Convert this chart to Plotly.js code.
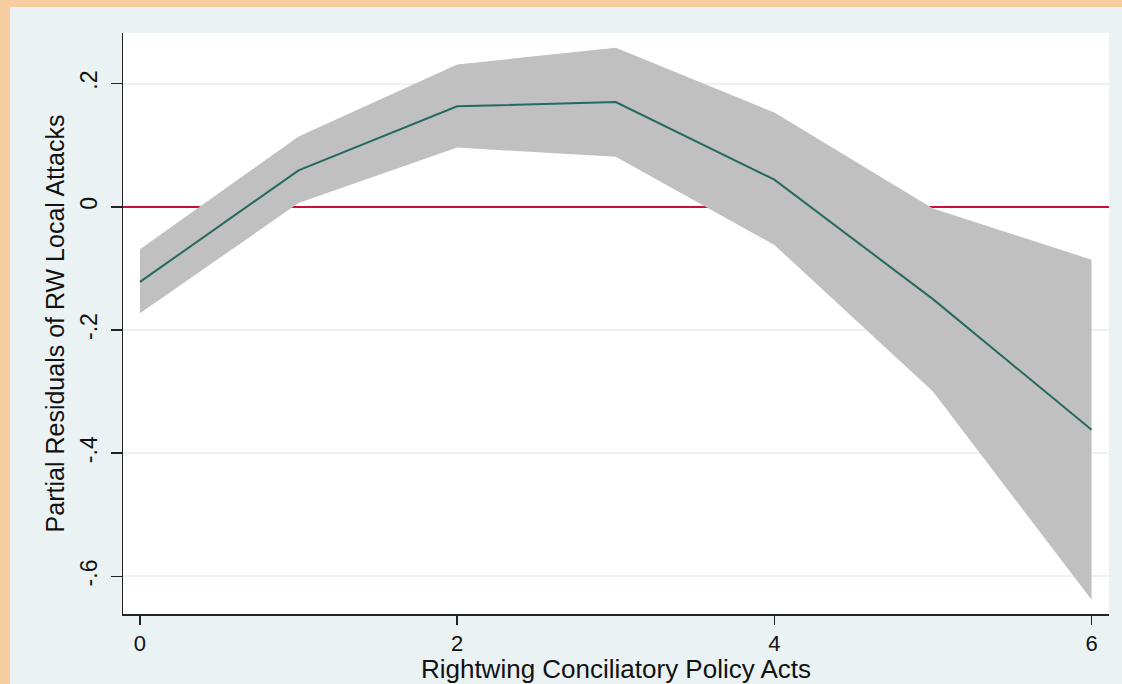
<!DOCTYPE html>
<html>
<head>
<meta charset="utf-8">
<script src="https://cdn.plot.ly/plotly-3.0.1.min.js"></script>
<style>
  html, body { margin: 0; padding: 0; background: #F6CD9F; width: 1122px; height: 684px; overflow: hidden; }
  #chart { position: absolute; left: 10px; top: 7px; width: 1112px; height: 677px; }
</style>
</head>
<body>
<div id="chart"></div>
<script>
const policyActs = [0, 1, 2, 3, 4, 5, 6];
const fitted = [-0.122, 0.059, 0.163, 0.170, 0.044, -0.150, -0.362];
const upperCI = [-0.069, 0.114, 0.231, 0.258, 0.153, -0.003, -0.086];
const lowerCI = [-0.173, 0.006, 0.096, 0.081, -0.062, -0.300, -0.638];
const yTickVals = [0.2, 0, -0.2, -0.4, -0.6];
const yTickText = [".2", "0", "-.2", "-.4", "-.6"];
const xTickVals = [0, 2, 4, 6];

const bandX = policyActs.concat(policyActs.slice().reverse());
const bandY = upperCI.concat(lowerCI.slice().reverse());

const family = "Liberation Sans, Arial, sans-serif";
const xTickFont = { family: family, size: 22, color: "#111" };
const yTickFont = { family: family, size: 23, color: "#111" };
const xTitleFont = { family: family, size: 26, color: "#111" };
const yTitleFont = { family: family, size: 25, color: "#111" };

const traces = [
  {
    x: bandX, y: bandY, type: "scatter", mode: "lines",
    fill: "toself", fillcolor: "#C0C0C0", line: { width: 0, color: "#C0C0C0" },
    hoverinfo: "skip", showlegend: false
  },
  {
    x: policyActs, y: fitted, type: "scatter", mode: "lines",
    line: { color: "#26695E", width: 2 }, showlegend: false
  }
];

const layout = {
  width: 1112, height: 677,
  paper_bgcolor: "#EAF2F3",
  plot_bgcolor: "#FFFFFF",
  margin: { l: 113, r: 13, t: 26, b: 70, pad: 0 },
  font: xTickFont,
  showlegend: false,
  xaxis: {
    range: [-0.107, 6.11],
    tickvals: xTickVals,
    ticktext: xTickVals.map(String),
    ticks: "outside", ticklen: 9, tickwidth: 1.5, tickcolor: "#222",
    ticklabelstandoff: 0,
    showline: true, linecolor: "#222", linewidth: 1.5,
    showgrid: false, zeroline: false,
    tickfont: xTickFont,
    title: { text: "Rightwing Conciliatory Policy Acts", font: xTitleFont, standoff: 2 }
  },
  yaxis: {
    range: [-0.661, 0.282],
    tickvals: yTickVals,
    ticktext: yTickText,
    tickangle: -90,
    ticks: "outside", ticklen: 11, tickwidth: 1.5, tickcolor: "#222",
    ticklabelstandoff: 4,
    showline: true, linecolor: "#222", linewidth: 1.5,
    showgrid: true, gridcolor: "#EAF2F3", gridwidth: 2,
    zeroline: true, zerolinecolor: "#C8103A", zerolinewidth: 2,
    tickfont: yTickFont,
    title: { text: "Partial Residuals of RW Local Attacks", font: yTitleFont, standoff: 4 }
  }
};

Plotly.newPlot("chart", traces, layout, { displayModeBar: false, staticPlot: true });
</script>
</body>
</html>
